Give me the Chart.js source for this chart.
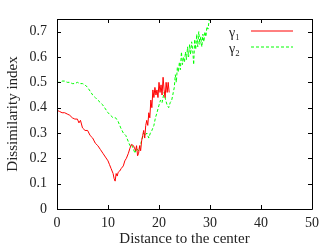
<!DOCTYPE html>
<html>
<head>
<meta charset="utf-8">
<script src="https://cdn.jsdelivr.net/npm/chart.js@4"></script>
<style>
  html, body { margin: 0; padding: 0; background: #fff; }
  #wrap { width: 327px; height: 248px; }
</style>
</head>
<body>
<div id="wrap"><canvas id="chart" width="327" height="248"></canvas></div>
<script>
const seriesNames = ['γ₁', 'γ₂'];
const seriesColors = ['#ff0000', '#00ff00'];
const xTicks = [0, 10, 20, 30, 40, 50];
const yTicks = [0, 0.1, 0.2, 0.3, 0.4, 0.5, 0.6, 0.7];

// [distance, dissimilarity]
const gamma1 = [
	[0, 0.39], [0.5, 0.385], [1, 0.38], [1.5, 0.38], [2, 0.375], [2.5, 0.37], [3, 0.36], [3.5, 0.355],
	[4, 0.355], [4.3, 0.34], [4.6, 0.35], [5, 0.32], [5.5, 0.31], [6, 0.31], [6.5, 0.29], [7, 0.28],
	[7.5, 0.26], [8, 0.25], [8.5, 0.235], [9, 0.22], [9.5, 0.205], [10, 0.19], [10.3, 0.175], [10.6, 0.16],
	[11, 0.14], [11.2, 0.12], [11.4, 0.11], [11.6, 0.14], [11.8, 0.13], [12, 0.145], [12.3, 0.15], [12.6, 0.16],
	[13, 0.17], [13.3, 0.19], [13.6, 0.2], [14, 0.22], [14.3, 0.24], [14.6, 0.255], [15, 0.25], [15.2, 0.24],
	[15.4, 0.23], [15.6, 0.25], [15.8, 0.21], [16, 0.22], [16.2, 0.25], [16.4, 0.23], [16.6, 0.27], [16.8, 0.29],
	[17, 0.31], [17.2, 0.28], [17.4, 0.33], [17.6, 0.35], [17.8, 0.33], [18, 0.38], [18.2, 0.36], [18.4, 0.43],
	[18.6, 0.4], [18.8, 0.47], [19, 0.44], [19.2, 0.48], [19.4, 0.45], [19.6, 0.47], [19.8, 0.44], [20, 0.5],
	[20.2, 0.46], [20.4, 0.49], [20.6, 0.45], [20.8, 0.52], [21, 0.47], [21.2, 0.44], [21.4, 0.5], [21.6, 0.46],
	[21.8, 0.5], [22, 0.46]
];

const gamma2 = [
	[0, 0.5], [0.5, 0.5], [1, 0.505], [1.5, 0.505], [2, 0.5], [2.5, 0.5], [3, 0.495], [3.5, 0.495],
	[4, 0.5], [4.5, 0.495], [5, 0.495], [5.5, 0.49], [6, 0.48], [6.5, 0.465], [7, 0.45], [7.5, 0.44],
	[8, 0.43], [8.5, 0.42], [9, 0.41], [9.5, 0.395], [10, 0.38], [10.5, 0.37], [11, 0.36], [11.5, 0.36],
	[12, 0.345], [12.5, 0.32], [13, 0.3], [13.5, 0.29], [14, 0.265], [14.3, 0.25], [14.6, 0.255], [15, 0.235],
	[15.3, 0.22], [15.6, 0.24], [16, 0.23], [16.3, 0.25], [16.6, 0.27], [17, 0.3], [17.3, 0.29], [17.6, 0.3],
	[18, 0.28], [18.3, 0.3], [18.6, 0.31], [19, 0.33], [19.3, 0.36], [19.6, 0.38], [20, 0.41], [20.3, 0.43],
	[20.6, 0.42], [21, 0.46], [21.3, 0.43], [21.6, 0.41], [21.9, 0.4], [22.2, 0.42], [22.5, 0.43], [22.8, 0.46],
	[23, 0.48], [23.2, 0.53], [23.4, 0.5], [23.6, 0.56], [23.8, 0.54], [24, 0.58], [24.2, 0.55], [24.4, 0.62],
	[24.6, 0.57], [24.8, 0.6], [25, 0.58], [25.2, 0.62], [25.4, 0.59], [25.6, 0.64], [25.8, 0.6], [26, 0.65],
	[26.2, 0.61], [26.4, 0.66], [26.6, 0.63], [26.8, 0.57], [27, 0.67], [27.2, 0.63], [27.4, 0.69], [27.6, 0.64],
	[27.8, 0.7], [28, 0.65], [28.2, 0.68], [28.4, 0.64], [28.6, 0.69], [28.8, 0.66], [29, 0.7], [29.2, 0.68],
	[29.4, 0.72], [29.6, 0.71], [29.8, 0.74], [30, 0.76]
];

const FONT = 'Liberation Serif';
const toPts = (arr) => arr.map((p) => ({ x: p[0], y: p[1] }));

// gnuplot-like frame: box, inward ticks on all sides, key at top right
const gnuplotFrame = {
	id: 'gnuplotFrame',
	afterDraw(chart) {
		const ctx = chart.ctx;
		const a = chart.chartArea;
		const xs = chart.scales.x, ys = chart.scales.y;
		ctx.save();
		ctx.strokeStyle = '#000';
		ctx.lineWidth = 1;
		ctx.beginPath();
		ctx.rect(Math.round(a.left) + 0.5, Math.round(a.top) + 0.5, Math.round(a.right - a.left), Math.round(a.bottom - a.top));
		xTicks.forEach((v) => {
			const px = Math.round(xs.getPixelForValue(v)) + 0.5;
			ctx.moveTo(px, a.bottom); ctx.lineTo(px, a.bottom - 4);
			ctx.moveTo(px, a.top); ctx.lineTo(px, a.top + 4);
		});
		yTicks.forEach((v) => {
			const py = Math.round(ys.getPixelForValue(v)) + 0.5;
			ctx.moveTo(a.left, py); ctx.lineTo(a.left + 4, py);
			ctx.moveTo(a.right, py); ctx.lineTo(a.right - 4, py);
		});
		ctx.stroke();

		// key: label right-aligned, then a sample of the line
		ctx.font = '14px "' + FONT + '"';
		ctx.textAlign = 'right';
		ctx.textBaseline = 'middle';
		seriesNames.forEach((name, i) => {
			const y = Math.round(a.top) + 12 + i * 16;
			ctx.fillStyle = '#222';
			ctx.fillText(name, a.left + 183, y + 2);
			ctx.strokeStyle = seriesColors[i];
			ctx.lineWidth = 1;
			ctx.setLineDash(i === 1 ? [3, 2] : []);
			ctx.beginPath();
			ctx.moveTo(Math.round(a.left) + 194, y);
			ctx.lineTo(Math.round(a.left) + 236, y);
			ctx.stroke();
		});
		ctx.restore();
	}
};

new Chart(document.getElementById('chart'), {
	type: 'line',
	data: {
		datasets: [
			{ label: seriesNames[0], data: toPts(gamma1), borderColor: seriesColors[0], borderWidth: 1, pointRadius: 0, tension: 0 },
			{ label: seriesNames[1], data: toPts(gamma2), borderColor: seriesColors[1], borderWidth: 1, borderDash: [3, 2], pointRadius: 0, tension: 0 }
		]
	},
	options: {
		responsive: false,
		animation: false,
		layout: { padding: { top: 19, right: 15, left: 0, bottom: 0 } },
		plugins: { legend: { display: false }, tooltip: { enabled: false } },
		scales: {
			x: {
				type: 'linear', min: 0, max: 50,
				afterBuildTicks: (s) => { s.ticks = xTicks.map((v) => ({ value: v })); },
				afterFit: (s) => { s.height = 39; },
				grid: { display: false, drawTicks: false },
				border: { display: false },
				ticks: { padding: 6, color: '#222', font: { family: FONT, size: 14 }, maxRotation: 0 },
				title: { display: true, text: 'Distance to the center', color: '#222', font: { family: FONT, size: 15 }, padding: { top: 0, bottom: 0 } }
			},
			y: {
				type: 'linear', min: 0, max: 0.75,
				afterBuildTicks: (s) => { s.ticks = yTicks.map((v) => ({ value: v })); },
				afterFit: (s) => { s.width = 57; },
				grid: { display: false, drawTicks: false },
				border: { display: false },
				ticks: { padding: 10, color: '#222', font: { family: FONT, size: 14 }, callback: (v) => String(+v.toFixed(1)) },
				title: { display: true, text: 'Dissimilarity index', color: '#222', font: { family: FONT, size: 15 }, padding: { top: 4, bottom: 0 } }
			}
		}
	},
	plugins: [gnuplotFrame]
});
</script>
</body>
</html>
